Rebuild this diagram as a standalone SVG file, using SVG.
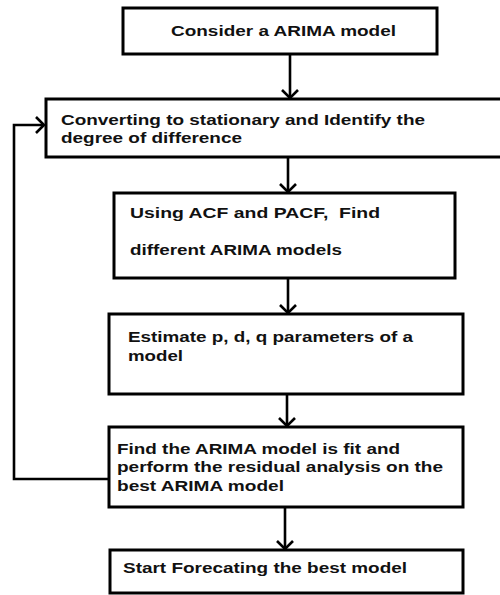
<svg xmlns="http://www.w3.org/2000/svg" width="500" height="595" viewBox="0 0 500 595">
<style>
.box{fill:#fff;stroke:#000;stroke-width:3}
.t{font-family:"Liberation Sans",Arial,sans-serif;font-weight:bold;font-size:15px;fill:#111}
.c{fill:none;stroke:#000;stroke-width:2.6}
</style>
<defs>
<marker id="v" markerWidth="20" markerHeight="20" refX="10" refY="10" orient="auto" markerUnits="userSpaceOnUse">
<path d="M2,2 L10,10 L2,18" fill="none" stroke="#000" stroke-width="2.6"/>
</marker>
</defs>
<rect width="500" height="595" fill="#fff"/>
<g id="connectors">
<line class="c" x1="290" y1="54" x2="290" y2="98" marker-end="url(#v)"/>
<line class="c" x1="288" y1="157" x2="288" y2="192" marker-end="url(#v)"/>
<line class="c" x1="288" y1="278" x2="288" y2="313" marker-end="url(#v)"/>
<line class="c" x1="287" y1="394" x2="287" y2="426" marker-end="url(#v)"/>
<line class="c" x1="285" y1="507" x2="285" y2="549" marker-end="url(#v)"/>
<polyline class="c" points="109,479 14,479 14,125 44,125" marker-end="url(#v)"/>
</g>
<g id="n1"><rect class="box" x="123" y="8" width="314" height="46"/><text class="t" x="171" y="36" textLength="225" lengthAdjust="spacingAndGlyphs">Consider a ARIMA model</text></g>
<g id="n2"><rect class="box" x="46" y="99" width="460" height="58"/><text class="t" x="61" y="125" textLength="364" lengthAdjust="spacingAndGlyphs">Converting to stationary and Identify the</text><text class="t" x="61" y="143" textLength="181" lengthAdjust="spacingAndGlyphs">degree of difference</text></g>
<g id="n3"><rect class="box" x="114" y="193" width="341" height="85"/><text class="t" x="130" y="218" textLength="250" lengthAdjust="spacingAndGlyphs" xml:space="preserve">Using ACF and PACF,  Find</text><text class="t" x="130" y="255" textLength="212" lengthAdjust="spacingAndGlyphs">different ARIMA models</text></g>
<g id="n4"><rect class="box" x="109" y="314" width="354" height="80"/><text class="t" x="128" y="342" textLength="285" lengthAdjust="spacingAndGlyphs">Estimate p, d, q parameters of a</text><text class="t" x="128" y="361" textLength="55" lengthAdjust="spacingAndGlyphs">model</text></g>
<g id="n5"><rect class="box" x="109" y="427" width="354" height="80"/><text class="t" x="117" y="454" textLength="283" lengthAdjust="spacingAndGlyphs">Find the ARIMA model is fit and</text><text class="t" x="117" y="472" textLength="326" lengthAdjust="spacingAndGlyphs">perform the residual analysis on the</text><text class="t" x="117" y="491" textLength="167" lengthAdjust="spacingAndGlyphs">best ARIMA model</text></g>
<g id="n6"><rect class="box" x="110" y="550" width="353" height="43"/><text class="t" x="123" y="573" textLength="284" lengthAdjust="spacingAndGlyphs">Start Forecating the best model</text></g>
</svg>
